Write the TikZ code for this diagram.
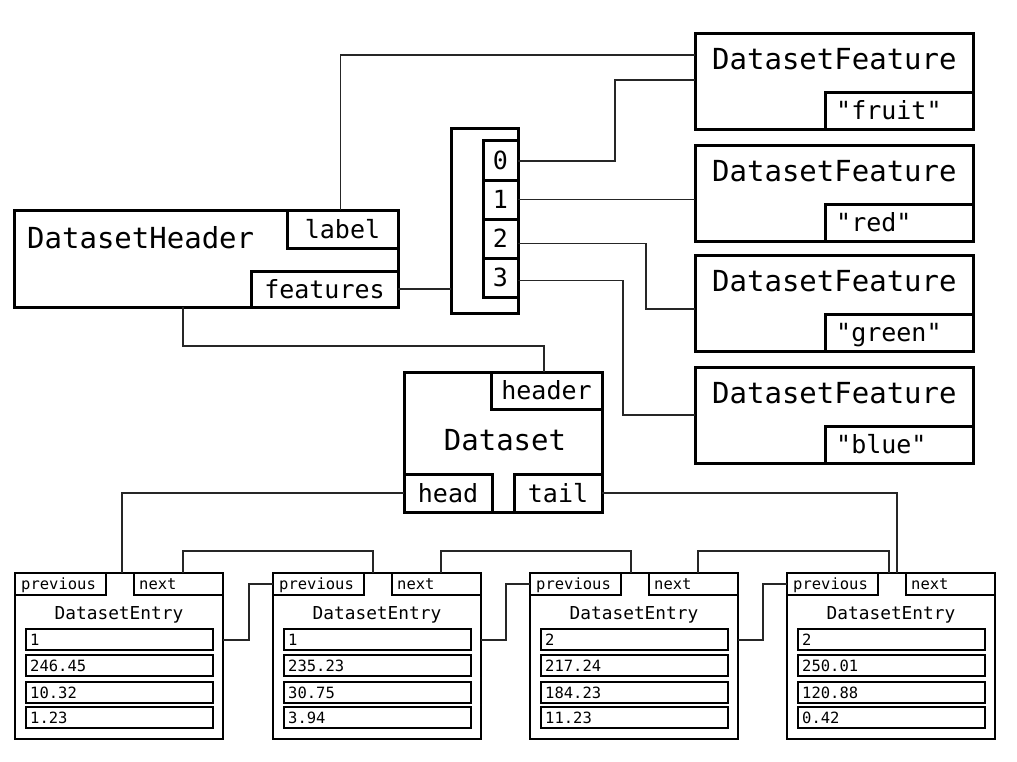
\documentclass[tikz,border=0pt]{standalone}
\usepackage{fontspec}
\newfontfamily\mono{DejaVu Sans Mono}
\usetikzlibrary{calc}
\newcommand\fbig{\mono\fontsize{29}{34}\selectfont}
\newcommand\fmid{\mono\fontsize{25}{30}\selectfont}
\newcommand\ftitle{\mono\fontsize{17.8}{21}\selectfont}
\newcommand\fsmall{\mono\fontsize{15.5}{18}\selectfont}
\tikzset{
  bigtxt/.style={font=\fbig, text height=21.2pt, text depth=0pt},
  midtxt/.style={font=\fmid, text height=18.2pt, text depth=0pt},
  titletxt/.style={font=\ftitle, text height=13pt, text depth=0pt},
  smalltxt/.style={font=\fsmall, text height=11.3pt, text depth=0pt},
  tb/.style={draw, line width=3pt, inner sep=0pt, outer sep=0pt, fill=white},
  ebox/.style={draw, line width=2.4pt, inner sep=0pt, outer sep=0pt, fill=white},
  etab/.style={draw, line width=2.4pt, inner sep=0pt, outer sep=0pt, fill=white},
  erow/.style={draw, line width=2pt, inner sep=0pt, outer sep=0pt, fill=white,
               minimum width=187pt, minimum height=21pt, anchor=north west},
  vtxt/.style={anchor=west, inner sep=0pt, smalltxt},
  ttl/.style={inner sep=0pt},
  conn/.style={draw=black!85, line width=1.6pt},
}
\newcommand\dsentry[6]{%
  \node[ebox, minimum width=208pt, minimum height=166pt, anchor=north west] (e#1) at (#2,573) {};
  \node[etab, minimum width=91pt, minimum height=22pt, anchor=north west] (pv#1) at (#2,573) {};
  \node[vtxt] (pvt#1) at ([xshift=6pt]pv#1.west) {previous};
  \node[etab, minimum width=89pt, minimum height=22pt, anchor=north west] (nx#1) at (#2+119,573) {};
  \node[vtxt] (nxt#1) at ([xshift=5pt]nx#1.west) {next};
  \node[ttl, titletxt] (et#1) at (#2+104,613) {DatasetEntry};
  \node[erow] (r#1a) at (#2+11,629) {};
  \node[vtxt] (v#1a) at ([xshift=4pt]r#1a.west) {#3};
  \node[erow] (r#1b) at (#2+11,655) {};
  \node[vtxt] (v#1b) at ([xshift=4pt]r#1b.west) {#4};
  \node[erow] (r#1c) at (#2+11,682) {};
  \node[vtxt] (v#1c) at ([xshift=4pt]r#1c.west) {#5};
  \node[erow] (r#1d) at (#2+11,707) {};
  \node[vtxt] (v#1d) at ([xshift=4pt]r#1d.west) {#6};
}
\newcommand\dsfeature[3]{%
  \node[tb, minimum width=278pt, minimum height=96pt, anchor=north west] (f#1) at (695,#2) {};
  \node[ttl, bigtxt, anchor=west] (ft#1) at (712,#2+26) {DatasetFeature};
  \node[tb, minimum width=148pt, minimum height=37pt, anchor=north west] (fv#1) at (825,#2+59) {};
  \node[ttl, midtxt, anchor=west] (fvt#1) at ([xshift=11pt]fv#1.west) {#3};
}
\begin{document}
\begin{tikzpicture}[x=1pt, y=-1pt]
\useasboundingbox (0,0) rectangle (1017,761);

% DatasetHeader
\node[tb, minimum width=384pt, minimum height=97pt, anchor=north west] (hdr) at (14,210) {};
\node[ttl, bigtxt, anchor=west] (hdrt) at (27,238) {DatasetHeader};
\node[tb, midtxt, minimum width=111pt, minimum height=38pt, anchor=north west] (lbl) at (287,210) {label};
\node[tb, midtxt, minimum width=147pt, minimum height=36pt, anchor=north west] (feat) at (251,271) {features};

% array
\node[tb, minimum width=67pt, minimum height=185pt, anchor=north west] (arr) at (451,128) {};
\node[tb, midtxt, minimum width=35pt, minimum height=40pt, anchor=north west] (c0) at (483,140) {0};
\node[tb, midtxt, minimum width=35pt, minimum height=39pt, anchor=north west] (c1) at (483,180) {1};
\node[tb, midtxt, minimum width=35pt, minimum height=39pt, anchor=north west] (c2) at (483,219) {2};
\node[tb, midtxt, minimum width=35pt, minimum height=39pt, anchor=north west] (c3) at (483,258) {3};

% features
\dsfeature{0}{33}{"fruit"}
\dsfeature{1}{145}{"red"}
\dsfeature{2}{255}{"green"}
\dsfeature{3}{367}{"blue"}

% Dataset
\node[tb, minimum width=198pt, minimum height=140pt, anchor=north west] (ds) at (404,372) {};
\node[ttl, bigtxt] (dst) at (505,440) {Dataset};
\node[tb, midtxt, minimum width=111pt, minimum height=37pt, anchor=north west] (htab) at (491,372) {header};
\node[tb, midtxt, minimum width=88pt, minimum height=38pt, anchor=north west] (head) at (404,474) {head};
\node[tb, midtxt, minimum width=88pt, minimum height=38pt, anchor=north west] (tail) at (514,474) {tail};

% entries
\dsentry{1}{15}{1}{246.45}{10.32}{1.23}
\dsentry{2}{273}{1}{235.23}{30.75}{3.94}
\dsentry{3}{530}{2}{217.24}{184.23}{11.23}
\dsentry{4}{787}{2}{250.01}{120.88}{0.42}

% connectors
\draw[conn] ([xshift=-2pt]lbl.north) |- ([yshift=-22pt]f0.north west);
\draw[conn] (feat.east) -- (feat.east -| arr.west);
\draw[conn] ([yshift=-1pt]c0.east) -- ++(97,0) |- ([yshift=-47pt]f0.north west);
\draw[conn] (c1.east) -- (c1.east -| f1.west);
\draw[conn] ([yshift=-5pt]c2.east) -- ++(128,0) |- ([yshift=-54pt]f2.north west);
\draw[conn] ([yshift=-3pt]c3.east) -- ++(105,0) |- ([yshift=-48pt]f3.north west);
\draw[conn] ([xshift=169pt]hdr.south west) -- ++(0,39) -| ([xshift=-2.5pt]htab.north);
\draw[conn] (head.west) -| ([xshift=107pt]e1.north west);
\draw[conn] (tail.east) -| ([xshift=110pt]e4.north west);
\draw[conn] ([xshift=4.5pt]nx1.north) -- ++(0,-22) -| ([xshift=100pt]e2.north west);
\draw[conn] ([xshift=4.5pt]nx2.north) -- ++(0,-22) -| ([xshift=101pt]e3.north west);
\draw[conn] ([xshift=4.5pt]nx3.north) -- ++(0,-22) -| ([xshift=102pt]e4.north west);
\draw[conn] (pv2.west) -- ++(-24,0) |- ([yshift=-67pt]e1.north east);
\draw[conn] (pv3.west) -- ++(-24,0) |- ([yshift=-67pt]e2.north east);
\draw[conn] (pv4.west) -- ++(-24,0) |- ([yshift=-67pt]e3.north east);
\end{tikzpicture}
\end{document}
